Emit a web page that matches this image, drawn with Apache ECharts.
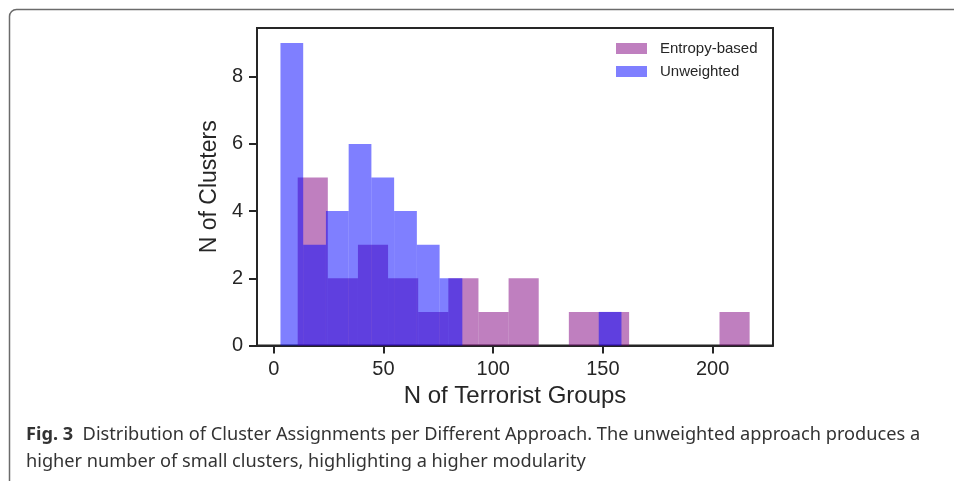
<!DOCTYPE html>
<html>
<head>
<meta charset="utf-8">
<script src="https://cdn.jsdelivr.net/npm/echarts@6/dist/echarts.min.js"></script>
<style>
    html, body { margin: 0; padding: 0; background: #fff; }
    #chart { width: 954px; height: 481px; }
</style>
</head>
<body>
<div id="chart"></div>
<script>
    // histogram bins (equal width)
    var entropyStart = 10.9;
    var entropyWidth = 13.73;
    var entropyCounts = [5, 2, 3, 2, 1, 2, 1, 2, 0, 1, 1, 0, 0, 0, 1];

    var unweightedStart = 3.05;
    var unweightedWidth = 10.36;
    var unweightedCounts = [9, 3, 4, 6, 5, 4, 3, 2, 0, 0, 0, 0, 0, 0, 1];

    var xTicks = [0, 50, 100, 150, 200];
    var yTicks = [0, 2, 4, 6, 8];

    var seriesNames = ['Entropy-based', 'Unweighted'];

    function toBins(start, width, counts) {
        return counts.map(function (c, i) {
            return [start + i * width, start + (i + 1) * width, c];
        });
    }

    function renderBin(params, api) {
        var top = api.coord([api.value(0), api.value(2)]);
        var bottom = api.coord([api.value(1), 0]);
        return {
            type: 'rect',
            shape: {
                x: top[0],
                y: top[1],
                width: bottom[0] - top[0],
                height: bottom[1] - top[1]
            },
            style: api.style()
        };
    }

    var chart = echarts.init(document.getElementById('chart'));
    var axisColor = '#262626';
    var font = 'Liberation Sans, Arial, sans-serif';

    var option = {
        backgroundColor: '#fff',
        animation: false,
        grid: {
            left: 257,
            top: 28,
            width: 516,
            height: 317.5,
            show: true,
            borderColor: axisColor,
            borderWidth: 2,
            containLabel: false
        },
        legend: {
            orient: 'vertical',
            left: 616,
            top: 41,
            padding: 0,
            itemWidth: 31,
            itemHeight: 11,
            itemGap: 8,
            icon: 'rect',
            data: seriesNames,
            textStyle: {
                fontFamily: font,
                fontSize: 15,
                color: axisColor,
                padding: [0, 0, 0, 8]
            }
        },
        xAxis: {
            type: 'value',
            min: -7.64,
            max: 227.5,
            name: 'N of Terrorist Groups',
            nameLocation: 'middle',
            nameGap: 36,
            nameTextStyle: { fontFamily: font, fontSize: 24, color: axisColor },
            axisLine: { show: true, onZero: false, lineStyle: { color: axisColor, width: 2 } },
            axisTick: { show: true, length: 8, customValues: xTicks, lineStyle: { color: axisColor, width: 2 } },
            axisLabel: { customValues: xTicks, margin: 14, fontFamily: font, fontSize: 20, color: axisColor },
            splitLine: { show: false }
        },
        yAxis: {
            type: 'value',
            min: 0,
            max: 9.45,
            name: 'N of Clusters',
            nameLocation: 'middle',
            nameGap: 26,
            nameTextStyle: { fontFamily: font, fontSize: 23, color: axisColor },
            axisLine: { show: true, onZero: false, lineStyle: { color: axisColor, width: 2 } },
            axisTick: { show: true, length: 8, customValues: yTicks, lineStyle: { color: axisColor, width: 2 } },
            axisLabel: { customValues: yTicks, margin: 14, fontFamily: font, fontSize: 20, color: axisColor },
            splitLine: { show: false }
        },
        series: [{
            name: seriesNames[0],
            type: 'custom',
            renderItem: renderBin,
            encode: { x: [0, 1], y: 2 },
            itemStyle: { color: 'rgba(128,0,128,0.5)' },
            data: toBins(entropyStart, entropyWidth, entropyCounts),
            z: 2
        }, {
            name: seriesNames[1],
            type: 'custom',
            renderItem: renderBin,
            encode: { x: [0, 1], y: 2 },
            itemStyle: { color: 'rgba(0,0,255,0.5)' },
            data: toBins(unweightedStart, unweightedWidth, unweightedCounts),
            z: 3
        }],
        graphic: [{
            // figure box
            type: 'rect',
            silent: true,
            shape: { x: 9.5, y: 9.5, width: 1000, height: 1000, r: [7, 0, 0, 0] },
            style: { fill: 'none', stroke: '#6b6b6b', lineWidth: 1.5 }
        }, {
            type: 'text',
            left: 26,
            top: 421,
            style: {
                text: '{b|Fig. 3}  Distribution of Cluster Assignments per Different Approach. The unweighted approach produces a\nhigher number of small clusters, highlighting a higher modularity',
                fontFamily: 'Noto Sans, Open Sans, sans-serif',
                fontSize: 18.2,
                lineHeight: 27,
                fill: '#333',
                rich: {
                    b: { fontWeight: 'bold', fontFamily: 'Noto Sans, Open Sans, sans-serif', fontSize: 18.2, lineHeight: 27, fill: '#333' }
                }
            }
        }]
    };

    chart.setOption(option);
</script>
</body>
</html>
